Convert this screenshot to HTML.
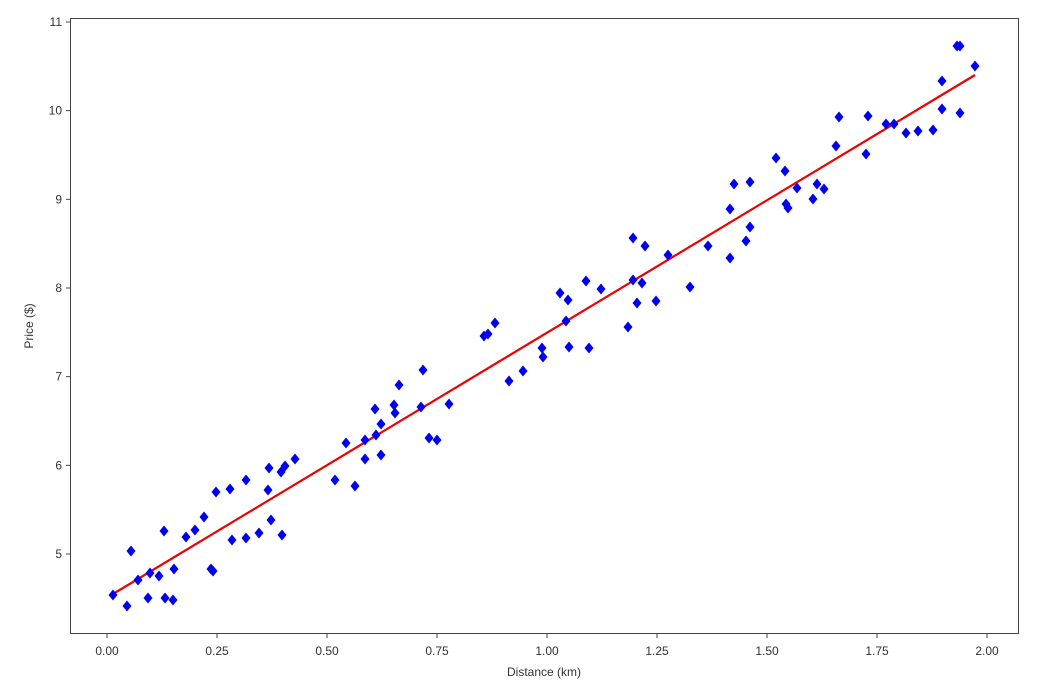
<!DOCTYPE html>
<html><head><style>body{margin:0;background:#fff}</style></head><body>
<svg width="1041" height="691" xmlns="http://www.w3.org/2000/svg" font-family="Liberation Sans, DejaVu Sans, sans-serif" font-size="12" fill="#333">
<rect width="1041" height="691" fill="#fff"/>
<line x1="113" y1="594" x2="975" y2="75" stroke="#e00" stroke-width="2.2"/>
<g id="pts" fill="#0000f0"></g>
<rect x="70.5" y="18.5" width="948" height="615" fill="none" stroke="#444" stroke-width="1"/>
<g stroke="#444" id="ticks"></g>
<g id="labels"></g>
<text x="544" y="676" text-anchor="middle">Distance (km)</text>
<text transform="translate(33,326) rotate(-90)" text-anchor="middle">Price ($)</text>
</svg>
<script>
var P=[[113,595],[127,606],[131,551],[138,580],[148,598],[150,573],[159,576],[164,531],[165,598],[173,600],[174,569],[186,537],[195,530],[204,517],[211,569],[213,571],[216,492],[230,489],[232,540],[246,480],[246,538],[259,533],[268,490],[269,468],[271,520],[282,535],[281,472],[285,466],[295,459],[335,480],[346,443],[355,486],[365,440],[365,459],[375,409],[376,435],[381,455],[381,424],[394,405],[395,413],[399,385],[421,407],[423,370],[429,438],[437,440],[449,404],[484,336],[488,334],[495,323],[509,381],[523,371],[542,348],[543,357],[560,293],[566,321],[568,300],[569,347],[586,281],[589,348],[601,289],[628,327],[633,238],[633,280],[637,303],[642,283],[645,246],[656,301],[668,255],[690,287],[708,246],[730,258],[730,209],[734,184],[746,241],[750,182],[750,227],[776,158],[785,171],[786,204],[788,208],[797,188],[813,199],[817,184],[824,189],[836,146],[839,117],[866,154],[868,116],[886,124],[894,124],[906,133],[918,131],[933,130],[942,81],[942,109],[957,46],[960,46],[960,113],[975,66]];
var ns="http://www.w3.org/2000/svg",g=document.getElementById('pts'),t=document.getElementById('ticks'),l=document.getElementById('labels');
P.forEach(function(p){var e=document.createElementNS(ns,'polygon');e.setAttribute('points',(p[0])+','+(p[1]-5.5)+' '+(p[0]+4.5)+','+p[1]+' '+p[0]+','+(p[1]+5.5)+' '+(p[0]-4.5)+','+p[1]);g.appendChild(e);});
function ln(a,b,c,d){var e=document.createElementNS(ns,'line');e.setAttribute('x1',a);e.setAttribute('y1',b);e.setAttribute('x2',c);e.setAttribute('y2',d);t.appendChild(e);}
function tx(x,y,s,a){var e=document.createElementNS(ns,'text');e.setAttribute('x',x);e.setAttribute('y',y);e.setAttribute('text-anchor',a);e.textContent=s;l.appendChild(e);}
for(var k=0;k<=8;k++){var x=107+110*k;ln(x,634,x,638);tx(x,655,(k*0.25).toFixed(2),'middle');}
for(var v=5;v<=11;v++){var y=554-(v-5)*88.67;ln(66,y,70,y);tx(62,y+4,String(v),'end');}
</script>
</body></html>
